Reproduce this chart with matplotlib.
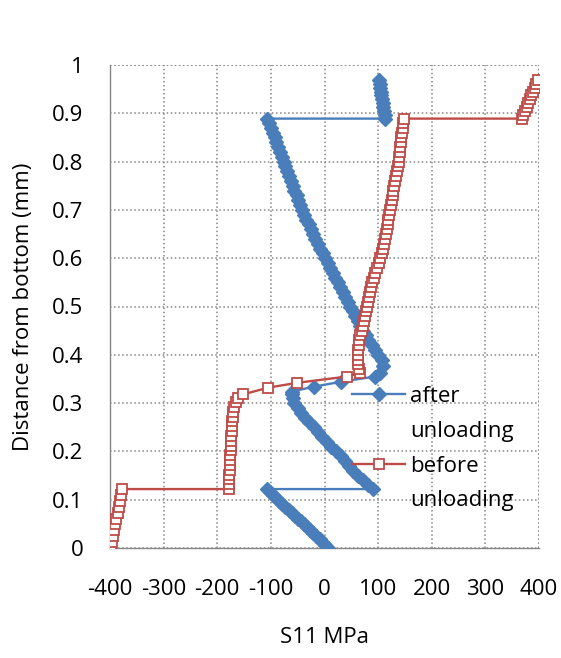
import matplotlib.pyplot as plt
from matplotlib.lines import Line2D

plt.rcParams['font.family'] = ['Open Sans', 'DejaVu Sans']
plt.rcParams['font.size'] = 16
plt.rcParams['axes.unicode_minus'] = False

# after unloading (S11 in MPa, distance in mm)
after_s11 = [7, 1, -4, -9, -15, -21, -27, -32, -38, -44, -50, -55, -61, -67, -73,
             -79, -84, -90, -96, -102, -108,
             90, 82, 72, 63, 54, 46, 38, 30, 21, 12, 4, -4, -12, -20, -28, -36,
             -43, -50, -56, -59, -61, -60,
             -20, 30, 94, 104, 110, 107,
             100, 94, 88, 82, 77, 72, 67, 62, 57, 53, 48, 43, 39, 34, 29, 25, 20,
             15, 11, 6, 1, -3, -8, -12, -17, -21, -25, -29, -34, -38, -42, -46,
             -49, -52, -56, -59, -63, -66, -69, -73, -76, -79, -83, -86, -90, -93,
             -96, -100, -103, -107,
             113, 112, 111, 110, 108.5, 107, 106, 105, 104, 103, 102]
after_y = [0.000, 0.006, 0.012, 0.018, 0.024, 0.031, 0.037, 0.043, 0.049, 0.055,
           0.061, 0.067, 0.073, 0.079, 0.085, 0.091, 0.097, 0.104, 0.110, 0.116,
           0.122,
           0.122, 0.13, 0.14, 0.15, 0.16, 0.17, 0.18, 0.19, 0.20, 0.21, 0.22, 0.23,
           0.24, 0.25, 0.26, 0.27, 0.28, 0.29, 0.30, 0.31, 0.318, 0.324,
           0.334, 0.344, 0.355, 0.362, 0.376, 0.39,
           0.40, 0.41, 0.42, 0.43, 0.44, 0.45, 0.46, 0.47, 0.48, 0.49, 0.50, 0.51,
           0.52, 0.53, 0.54, 0.55, 0.56, 0.57, 0.58, 0.59, 0.60, 0.61, 0.62, 0.63,
           0.64, 0.65, 0.66, 0.67, 0.68, 0.69, 0.70, 0.71, 0.72, 0.73, 0.74, 0.75,
           0.76, 0.77, 0.78, 0.79, 0.80, 0.81, 0.82, 0.83, 0.84, 0.85, 0.86, 0.87,
           0.88, 0.889,
           0.889, 0.897, 0.905, 0.913, 0.921, 0.929, 0.937, 0.945, 0.953, 0.961,
           0.969]

# before unloading
before_s11 = [-398, -396, -394, -392, -390, -388, -386, -384, -382, -380, -378,
              -179, -178.5, -178, -177.5, -177, -176.5, -176, -175.5, -175, -174.5,
              -174, -173.5, -173, -172.5, -172, -171, -170, -168, -165, -161, -152,
              -105, -51, 42, 66,
              64, 63, 63, 63, 63, 64, 65, 67, 70, 71.5, 73, 75, 77, 79, 81, 83, 85,
              87, 89, 92, 95, 98, 101, 104, 107, 109, 111, 113, 114.5, 116, 117.5,
              119, 120.5, 122, 123.5, 125, 127, 128.5, 130, 131.5, 133, 135, 136.5,
              138, 139, 140, 141, 142, 143, 144.5, 146, 147, 148.5,
              368, 371, 374, 377, 380, 383, 386, 389, 392, 395, 398]
before_y = [0.000, 0.012, 0.024, 0.037, 0.049, 0.061, 0.073, 0.085, 0.098, 0.110,
            0.122,
            0.122, 0.132, 0.142, 0.152, 0.162, 0.172, 0.182, 0.192, 0.202, 0.212,
            0.222, 0.232, 0.242, 0.252, 0.262, 0.272, 0.282, 0.292, 0.302, 0.310,
            0.318,
            0.332, 0.342, 0.355, 0.362,
            0.37, 0.38, 0.39, 0.40, 0.41, 0.42, 0.43, 0.44, 0.45, 0.46, 0.47, 0.48,
            0.49, 0.50, 0.51, 0.52, 0.53, 0.54, 0.55, 0.56, 0.57, 0.58, 0.59, 0.60,
            0.61, 0.62, 0.63, 0.64, 0.65, 0.66, 0.67, 0.68, 0.69, 0.70, 0.71, 0.72,
            0.73, 0.74, 0.75, 0.76, 0.77, 0.78, 0.79, 0.80, 0.81, 0.82, 0.83, 0.84,
            0.85, 0.86, 0.87, 0.88, 0.889,
            0.889, 0.897, 0.905, 0.913, 0.921, 0.929, 0.937, 0.945, 0.953, 0.961,
            0.969]

x_ticks = [-400, -300, -200, -100, 0, 100, 200, 300, 400]
y_ticks = [0, 0.1, 0.2, 0.3, 0.4, 0.5, 0.6, 0.7, 0.8, 0.9, 1]
y_ticklabels = ['0', '0.1', '0.2', '0.3', '0.4', '0.5', '0.6', '0.7', '0.8', '0.9', '1']

blue = '#4a7ebb'
red = '#be4b48'
grey = '#868686'

fig = plt.figure(figsize=(5.61, 6.58), dpi=100)
ax = fig.add_axes([110 / 561, 1 - 548 / 658, 429 / 561, 483 / 658])

l1, = ax.plot(after_s11, after_y, color=blue, lw=1.7, marker='D', ms=7,
              mfc=blue, mec=blue, zorder=3)
l2, = ax.plot(before_s11, before_y, color=red, lw=1.7, marker='s', ms=7.5,
              mfc='white', mec=red, mew=1.3, zorder=4)

ax.set_xlim(-400, 400)
ax.set_ylim(0, 1)
ax.set_xticks(x_ticks)
ax.set_yticks(y_ticks)
ax.set_yticklabels(y_ticklabels)
ax.tick_params(length=0)
ax.tick_params(axis='y', pad=19)
ax.tick_params(axis='x', pad=22)
ax.grid(True, color=grey, ls=':', lw=1.1)
ax.set_axisbelow(True)

for s in ['top', 'right']:
    ax.spines[s].set_visible(False)
for s in ['left', 'bottom']:
    ax.spines[s].set_color(grey)
    ax.spines[s].set_linewidth(1)
# dotted border on top and right like the gridlines
ax.axhline(1, color=grey, ls=':', lw=1.1, zorder=0)
ax.axvline(400, color=grey, ls=':', lw=1.1, zorder=0)

ax.set_xlabel('S11 MPa', labelpad=20)
ax.set_ylabel('Distance from bottom (mm)', labelpad=13)

blank = Line2D([], [], ls='none')
ax.legend([l1, blank, l2, blank], ['after', 'unloading', 'before', 'unloading'],
          loc='upper left', bbox_to_anchor=(352 / 561, 1 - 386 / 658),
          bbox_transform=fig.transFigure, frameon=False, numpoints=1,
          handlelength=2.4, handletextpad=0.23, borderpad=0, borderaxespad=0,
          labelspacing=0.62)

fig.savefig('out.png', dpi=100)
